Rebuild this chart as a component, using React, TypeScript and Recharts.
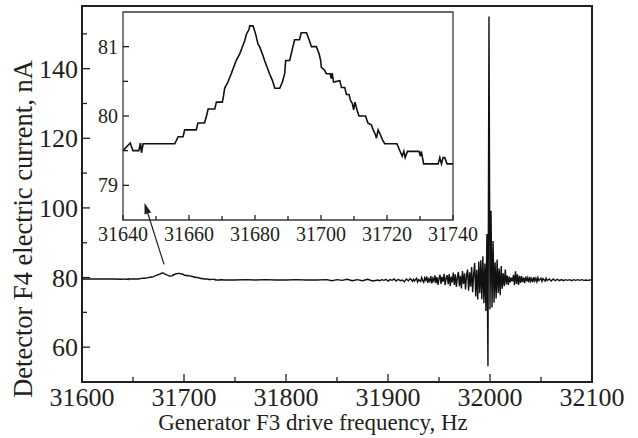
import React from "react";
import { LineChart, Line, XAxis, YAxis, ReferenceArea, ReferenceLine } from "recharts";

// ---------- data ----------
const leftBaseline: [number, number][] = [
  [31600, 79.6], [31610, 79.6], [31620, 79.6], [31630, 79.6],
];

const insetTrace: [number, number][] = [
  [31640.0, 79.5], [31642.2, 79.61], [31643.0, 79.5], [31644.8, 79.5], [31645.3, 79.61],
  [31645.6, 79.47], [31646.1, 79.6], [31655.7, 79.6], [31656.7, 79.7], [31658.2, 79.7],
  [31658.7, 79.8], [31662.2, 79.8], [31662.7, 79.9], [31664.7, 79.9], [31665.3, 80.0],
  [31665.8, 80.1], [31667.8, 80.1], [31668.3, 80.2], [31670.1, 80.2], [31670.5, 80.3],
  [31670.8, 80.4], [31671.8, 80.49], [31672.8, 80.61], [31673.5, 80.7], [31674.3, 80.8],
  [31675.4, 80.9], [31676.2, 81.0], [31676.9, 81.09], [31677.4, 81.18], [31678.2, 81.25],
  [31678.4, 81.3], [31679.4, 81.3], [31680.2, 81.18], [31680.9, 81.04], [31681.4, 81.0],
  [31682.2, 80.9], [31682.9, 80.8], [31683.7, 80.7], [31684.4, 80.61], [31685.3, 80.51],
  [31686.0, 80.4], [31687.5, 80.4], [31688.3, 80.49], [31689.0, 80.61], [31689.3, 80.8],
  [31690.5, 80.8], [31691.0, 80.9], [31691.5, 81.0], [31692.0, 81.1], [31693.5, 81.1],
  [31694.0, 81.2], [31695.6, 81.2], [31696.4, 81.1], [31697.1, 81.0], [31698.6, 81.0],
  [31699.4, 80.9], [31699.9, 80.8], [31700.1, 80.7], [31701.1, 80.66], [31701.6, 80.61],
  [31702.8, 80.61], [31703.1, 80.54], [31703.4, 80.62], [31703.8, 80.49], [31705.7, 80.51],
  [31706.2, 80.41], [31707.2, 80.41], [31707.7, 80.31], [31708.5, 80.31], [31708.9, 80.23],
  [31709.5, 80.18], [31709.9, 80.09], [31710.3, 80.2], [31710.9, 80.09], [31711.5, 80.0],
  [31713.5, 80.0], [31714.2, 79.9], [31715.3, 79.87], [31715.8, 79.8], [31716.5, 79.73],
  [31716.8, 79.68], [31717.3, 79.8], [31718.0, 79.73], [31718.6, 79.66], [31719.3, 79.6],
  [31723.0, 79.6], [31723.8, 79.51], [31724.6, 79.42], [31725.1, 79.49], [31725.5, 79.4],
  [31726.2, 79.49], [31729.7, 79.49], [31730.1, 79.42], [31730.4, 79.49], [31731.1, 79.31],
  [31735.5, 79.31], [31736.0, 79.4], [31736.5, 79.31], [31737.0, 79.4], [31737.5, 79.4],
  [31738.2, 79.31], [31740.0, 79.31],
];

const midBaseline: [number, number][] = [
  [31745, 79.3], [31750, 79.3], [31760, 79.4], [31770, 79.3], [31780, 79.4], [31790, 79.3],
  [31800, 79.3], [31810, 79.4], [31820, 79.3], [31830, 79.3], [31840, 79.4], [31845, 79.1],
  [31850, 79.4], [31855, 79.2], [31860, 79.5], [31865, 79.1], [31870, 79.4], [31875, 79.1],
  [31880, 79.5], [31885, 79.0],
];

const resonanceTrace: [number, number][] = [
  [31890, 79.3], [31892, 79.1], [31894, 79.4], [31896, 79.2], [31898, 79.5], [31900, 79.0],
  [31902, 79.4], [31904, 79.2], [31906, 79.6], [31908, 79.0], [31910, 79.5], [31912, 79.1],
  [31914, 79.3], [31916, 78.8], [31918, 79.6], [31920, 79.1], [31922, 79.7], [31924, 78.9],
  [31925, 79.5], [31926, 79.0], [31928, 79.8], [31929, 78.7], [31930, 79.4], [31932, 78.9],
  [31933, 80.0], [31934, 79.1], [31935, 78.6], [31936, 79.9], [31937, 79.2], [31938, 80.3],
  [31939, 78.5], [31940, 79.6], [31941, 78.9], [31942, 80.4], [31943, 78.3], [31944, 79.8],
  [31945, 79.0], [31946, 80.6], [31947, 78.4], [31948, 80.1], [31949, 77.9], [31950, 79.7],
  [31951, 80.8], [31952, 78.2], [31953, 80.2], [31954, 78.8], [31955, 81.1], [31956, 77.8],
  [31957, 79.9], [31958, 80.7], [31959, 78.1], [31960, 81.0], [31961, 77.6], [31962, 80.3],
  [31963, 78.6], [31964, 81.4], [31965, 77.9], [31966, 80.9], [31967, 77.3], [31968, 80.0],
  [31969, 81.6], [31970, 77.5], [31971, 80.5], [31972, 76.9], [31973, 81.9], [31974, 78.2],
  [31975, 81.2], [31976, 76.6], [31977, 80.7], [31978, 82.3], [31979, 76.2], [31980, 81.5],
  [31981, 77.4], [31982, 83.0], [31983, 75.8], [31984, 81.0], [31985, 84.2], [31986, 74.6],
  [31987, 82.2], [31988, 73.7], [31989, 84.6], [31990, 75.5], [31991, 85.0], [31992, 73.8],
  [31993, 86.1], [31994, 72.6], [31995, 84.0], [31996, 70.4], [31997, 92.5], [31998, 54.5],
  [31999, 155.0], [32000, 70.9], [32001, 99.2], [32002, 71.4], [32003, 90.5], [32004, 72.8],
  [32005, 84.4], [32006, 74.0], [32007, 85.2], [32008, 75.6], [32009, 82.6], [32010, 74.9],
  [32011, 83.3], [32012, 76.8], [32013, 81.2], [32014, 77.5], [32015, 82.3], [32016, 78.0],
  [32017, 80.6], [32018, 77.9], [32019, 80.3], [32020, 78.6], [32021, 80.0], [32022, 78.9],
  [32023, 80.8], [32024, 77.8], [32025, 81.8], [32026, 78.2], [32027, 80.9], [32028, 77.9],
  [32029, 80.5], [32030, 78.5], [32031, 80.4], [32032, 78.7], [32033, 80.0], [32034, 78.4],
  [32035, 80.3], [32036, 78.9], [32037, 79.9], [32038, 78.6], [32039, 80.2], [32040, 78.9],
  [32041, 79.7], [32042, 78.7], [32043, 80.1], [32044, 79.0], [32045, 79.8], [32046, 78.8],
  [32047, 80.0], [32048, 79.1], [32050, 79.8], [32051, 78.9], [32052, 79.7], [32054, 79.0],
  [32055, 79.8], [32056, 79.1], [32058, 79.6], [32060, 79.0], [32062, 79.6], [32064, 79.1],
  [32066, 79.5], [32068, 79.1], [32070, 79.4], [32072, 79.1], [32074, 79.4], [32076, 79.2],
  [32078, 79.4], [32080, 79.1], [32082, 79.4], [32084, 79.2], [32086, 79.4], [32088, 79.2],
  [32090, 79.4], [32092, 79.2], [32094, 79.3], [32096, 79.2], [32098, 79.3], [32100, 79.3],
];

const mainXTicks = [31600, 31650, 31700, 31750, 31800, 31850, 31900, 31950, 32000, 32050, 32100];
const mainXLabels = [31600, 31700, 31800, 31900, 32000, 32100];
const mainYTicks = [60, 70, 80, 90, 100, 110, 120, 130, 140, 150];
const mainYLabels = [60, 80, 100, 120, 140];
const mainXDomain = [31600, 32100];
const mainYDomain = [50, 158];

const insetXTicks = [31640, 31650, 31660, 31670, 31680, 31690, 31700, 31710, 31720, 31730, 31740];
const insetXLabels = [31640, 31660, 31680, 31700, 31720, 31740];
const insetYTicks = [79, 79.5, 80, 80.5, 81];
const insetYLabels = [79, 80, 81];
const insetXDomain = [31640, 31740];
const insetYDomain = [78.5, 81.5];

// arrow from the main-curve bump up to the inset (data coordinates)
const arrowSegment = [
  { x: 31680.4, y: 83.8 },
  { x: 31661.3, y: 101.4 },
];

const xTitle = "Generator F3 drive frequency, Hz";
const yTitle = "Detector F4 electric current, nA";

const mainData = [...leftBaseline, ...insetTrace, ...midBaseline, ...resonanceTrace].map(
  ([f, v]) => ({ f, v })
);
const insetData = insetTrace.map(([f, v]) => ({ f, v }));

// ---------- styling ----------
const FONT = "Liberation Serif";
const INK = "#231f20";

const makeXTick = (labels: number[], major: number, minor: number, fs: number, dy: number) =>
  (props: any) => {
    const { x, y, payload } = props;
    const isMajor = labels.includes(payload.value);
    return (
      <g>
        <line x1={x} y1={y} x2={x} y2={y - (isMajor ? major : minor)} stroke={INK} strokeWidth={1.3} />
        {isMajor && (
          <text x={x} y={y + dy} textAnchor="middle" style={{ fontFamily: FONT }} fontSize={fs} fill={INK}>
            {payload.value}
          </text>
        )}
      </g>
    );
  };

const makeYTick = (labels: number[], major: number, minor: number, fs: number, gap: number, dy: number) =>
  (props: any) => {
    const { x, y, payload } = props;
    const isMajor = labels.includes(payload.value);
    return (
      <g>
        <line x1={x} y1={y} x2={x + (isMajor ? major : minor)} y2={y} stroke={INK} strokeWidth={1.3} />
        {isMajor && (
          <text x={x - gap} y={y + dy} textAnchor="end" style={{ fontFamily: FONT }} fontSize={fs} fill={INK}>
            {payload.value}
          </text>
        )}
      </g>
    );
  };

const Arrow = (props: any) => {
  const { x1, y1, x2, y2 } = props;
  const ang = Math.atan2(y2 - y1, x2 - x1);
  const L = 11;
  const W = 3.5;
  const bx = x2 - L * Math.cos(ang);
  const by = y2 - L * Math.sin(ang);
  const px = -Math.sin(ang) * W;
  const py = Math.cos(ang) * W;
  return (
    <g>
      <line x1={x1} y1={y1} x2={bx} y2={by} stroke={INK} strokeWidth={1.2} />
      <polygon points={`${x2},${y2} ${bx + px},${by + py} ${bx - px},${by - py}`} fill={INK} />
    </g>
  );
};

export default function App() {
  return (
    <div style={{ position: "absolute", left: 0, top: 0, width: 638, height: 438, background: "#fff" }}>
      {/* inset (drawn underneath) */}
      <div style={{ position: "absolute", left: 0, top: 0 }}>
        <LineChart
          width={638}
          height={438}
          data={insetData}
          margin={{ top: 12, right: 185, bottom: 188, left: 83 }}
        >
          <ReferenceArea
            x1={insetXDomain[0]}
            x2={insetXDomain[1]}
            y1={insetYDomain[0]}
            y2={insetYDomain[1]}
            fill="#fff"
            fillOpacity={1}
            stroke="#3a3a3a"
            strokeWidth={1.3}
            ifOverflow="visible"
          />
          <XAxis
            dataKey="f"
            type="number"
            domain={insetXDomain}
            ticks={insetXTicks}
            interval={0}
            allowDataOverflow
            axisLine={false}
            tickLine={false}
            tickSize={0}
            tickMargin={0}
            height={30}
            tick={makeXTick(insetXLabels, 5, 4, 20, 21)}
          />
          <YAxis
            type="number"
            domain={insetYDomain}
            ticks={insetYTicks}
            interval={0}
            allowDataOverflow
            axisLine={false}
            tickLine={false}
            tickSize={0}
            tickMargin={0}
            width={40}
            tick={makeYTick(insetYLabels, 6, 5, 20, 5, 7)}
          />
          <Line
            dataKey="v"
            type="linear"
            stroke="#111"
            strokeWidth={1.6}
            dot={false}
            isAnimationActive={false}
          />
        </LineChart>
      </div>

      {/* main chart (on top, transparent) */}
      <div style={{ position: "absolute", left: 0, top: 0 }}>
        <LineChart
          width={638}
          height={438}
          data={mainData}
          margin={{ top: 6, right: 46, bottom: 16, left: 22 }}
        >
          <ReferenceArea
            x1={mainXDomain[0]}
            x2={mainXDomain[1]}
            y1={mainYDomain[0]}
            y2={mainYDomain[1]}
            fill="none"
            stroke={INK}
            strokeWidth={2}
            ifOverflow="visible"
          />
          <XAxis
            dataKey="f"
            type="number"
            domain={mainXDomain}
            ticks={mainXTicks}
            interval={0}
            allowDataOverflow
            axisLine={false}
            tickLine={false}
            tickSize={0}
            tickMargin={0}
            height={40}
            tick={makeXTick(mainXLabels, 8, 5, 26, 24)}
            label={() => (
              <text x={313} y={430} textAnchor="middle" style={{ fontFamily: FONT }} fontSize={23} fill={INK}>
                {xTitle}
              </text>
            )}
          />
          <YAxis
            type="number"
            domain={mainYDomain}
            ticks={mainYTicks}
            interval={0}
            allowDataOverflow
            axisLine={false}
            tickLine={false}
            tickSize={0}
            tickMargin={0}
            width={60}
            tick={makeYTick(mainYLabels, 8, 5, 26, 4, 9)}
            label={() => (
              <text
                x={32}
                y={229}
                textAnchor="middle"
                transform="rotate(-90, 32, 229)"
                style={{ fontFamily: FONT }}
                fontSize={26.5}
                fill={INK}
              >
                {yTitle}
              </text>
            )}
          />
          <Line
            dataKey="v"
            type="linear"
            stroke="#111"
            strokeWidth={1.4}
            dot={false}
            isAnimationActive={false}
          />
          <ReferenceLine segment={arrowSegment} shape={Arrow} ifOverflow="visible" />
        </LineChart>
      </div>
    </div>
  );
}
